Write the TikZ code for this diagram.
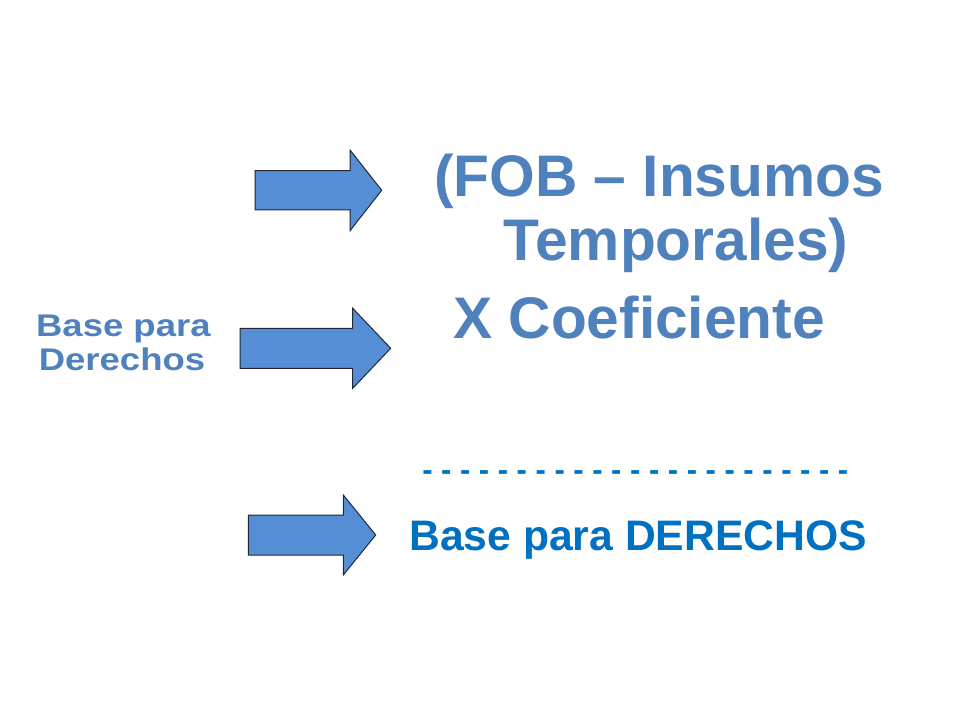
\documentclass[tikz,border=0pt]{standalone}
\usepackage{fontspec}
\setmainfont{Liberation Sans}
\definecolor{titleblue}{RGB}{79,129,189}
\definecolor{deepblue}{RGB}{0,112,192}
\definecolor{arrowfill}{RGB}{85,142,213}
\definecolor{arrowline}{RGB}{30,40,55}
\begin{document}
\begin{tikzpicture}[x=0.75pt,y=-0.75pt,
  bigtxt/.style={inner sep=0pt,anchor=base west,text=titleblue,font=\fontsize{44}{50}\selectfont\bfseries},
  smalltxt/.style={inner sep=0pt,anchor=base,text=titleblue,font=\fontsize{23.5}{26}\selectfont\bfseries,xscale=1.165},
  basetxt/.style={inner sep=0pt,anchor=base west,text=deepblue,font=\fontsize{32}{36}\selectfont\bfseries},
  dashtxt/.style={inner sep=0pt,anchor=base west,text=deepblue,font=\fontsize{23.2}{26}\selectfont\bfseries},
  blockarrow/.style={fill=arrowfill,draw=arrowline,line width=0.75pt,line join=miter}]
\fill[white] (0,0) rectangle (960,720);
\useasboundingbox (0,0) rectangle (960,720);
% arrows
\draw[blockarrow] (255,170.7) -- (350,170.7) -- (350,150) -- (381.7,190.3) -- (350,230.7) -- (350,210) -- (255,210) -- cycle;
\draw[blockarrow] (240,328.3) -- (352.7,328.3) -- (352.7,308.3) -- (390.7,348.3) -- (352.7,388.3) -- (352.7,368.3) -- (240,368.3) -- cycle;
\draw[blockarrow] (248.3,515) -- (343.3,515) -- (343.3,495) -- (375.7,535) -- (343.3,575) -- (343.3,555) -- (248.3,555) -- cycle;
% texts
\node[bigtxt] (l1) at (434,196.7) {(FOB – Insumos};
\node[bigtxt] (l2) at (503.5,260.5) {Temporales)};
\node[bigtxt] (l3) at (453,338.8) {X Coeficiente};
\node[smalltxt] (s1) at (123.4,336.7) {Base para};
\node[smalltxt] (s2) at (122,370) {Derechos};
\node[dashtxt] (dash) at (422,480) {- - - - - - - - - - - - - - - - - - - - - - -};
\node[basetxt] (bd) at (409,550) {Base para DERECHOS};
\end{tikzpicture}
\end{document}
